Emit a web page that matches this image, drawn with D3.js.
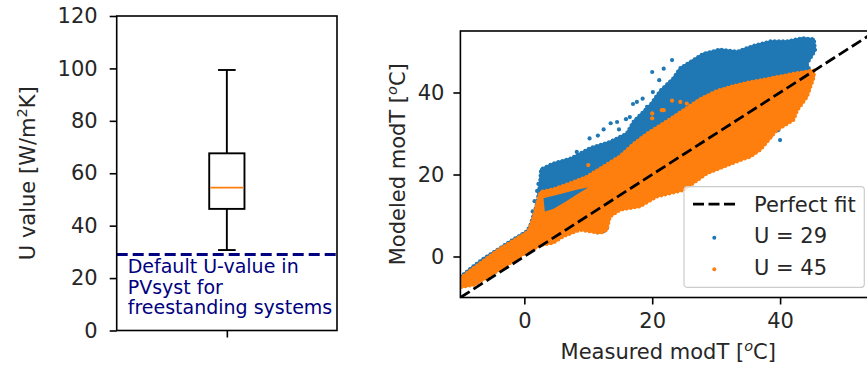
<!DOCTYPE html>
<html>
<head>
<meta charset="utf-8">
<script src="https://cdn.jsdelivr.net/npm/d3@7"></script>
<style>
  body { margin: 0; background: #fff; }
  text { font-family: "DejaVu Sans", sans-serif; fill: #262626; }
</style>
</head>
<body>
<div class="chart"></div>
<script>
// U value boxplot + modelled vs measured module temperature

// left panel: boxplot stats [lower whisker, Q1, median, Q3, upper whisker]
var uValueStats = [30.7, 46.4, 54.5, 67.6, 99.4];
var defaultU = 29;
var noteLines = ["Default U-value in", "PVsyst for", "freestanding systems"];
var leftTicks = [0, 20, 40, 60, 80, 100, 120];

// right panel: tick values and legend
var rightTicks = [0, 20, 40];
var legendLabels = ["Perfect fit", "U = 29", "U = 45"];

// outline of the dense U = 29 cloud [measured, modelled]
var blueCloud = [[-10, -5.0], [-8.5, -3.0], [-6.5, -0.6], [-4.1, 1.8], [-1.5, 4.4], [0.4, 6.2],
    [0.9, 7.5], [2.0, 13], [2.4, 17.5], [2.6, 21.3], [4.5, 22.7], [7.2, 23.9], [10.3, 26.5],
    [13.4, 28], [16, 30], [17.1, 33], [19.7, 37], [21.3, 40.5], [23.3, 43.5], [24.4, 46],
    [26.5, 48], [28, 49.5], [30.6, 50.5], [33.3, 50], [36, 51.5], [38.5, 52.5], [41.1, 52.5],
    [43.5, 53.3], [45.3, 53], [45.5, 50.3], [44.2, 47], [44.8, 45], [40, 40], [30, 32],
    [20, 22], [10, 12], [0, 3], [-10, -6]];

// outline of the dense U = 45 cloud
var orangeCloud = [[-10, -5.3], [-8.3, -3.2], [-6.2, -0.8], [-4.1, 1.6], [-1.5, 4.1], [0.6, 6.1],
    [1.4, 9.5], [1.9, 12.5], [2.3, 14.8], [2.6, 15.8], [4.5, 16.4], [7.2, 17.9], [9.8, 19.5],
    [12.4, 22], [15, 24.5], [17.1, 27.5], [19.2, 30], [22.3, 33], [24.9, 35.7], [27.6, 38.5],
    [30.1, 40.4], [32.7, 41.6], [34.8, 42.4], [36.9, 43], [39.5, 43.8], [42.1, 44.6],
    [45.3, 45.4], [45.3, 43.8], [44.2, 38.9], [42.7, 35.7], [42.1, 33.3], [39.5, 30.8],
    [36.9, 26], [35.3, 24.3], [33.8, 23.5], [31.2, 21.9], [28.6, 20.3], [24.9, 16.2],
    [20.7, 14.6], [18.1, 12.2], [15, 11.4], [13.4, 9.7], [12.9, 6.5], [11.9, 5.7], [10.3, 6.1],
    [8.7, 6.5], [6.1, 4.9], [4.5, 3.3], [2.7, 2.8], [0.1, 0.8], [-2.6, -2], [-5.2, -4.5],
    [-7.8, -6.9], [-10, -7.5]];

// gap inside the orange cloud where blue shows through
var orangeGap = [[3.0, 14.2], [5.5, 15.2], [8.5, 16.4], [10, 16.8], [8.5, 15.4], [6.5, 13.4],
    [4.5, 11.6], [3.2, 11]];

// stray points outside the dense clouds
var blueDots = [[20, 45], [21.1, 43], [20.1, 40.1], [18.5, 38.5], [17.6, 37.7], [17, 37.2],
    [15.9, 33.5], [14.5, 32.8], [13.5, 32.5], [12.4, 31], [10.2, 28.8], [21.8, 45.8], [23.1, 47.9],
    [19.2, 36.5], [16.5, 34], [11.5, 29.5], [14.8, 31], [8.2, 25.5], [2.2, 17.7], [1.3, 11],
    [1.2, 8.5], [1.6, 13.5], [2.0, 16], [39.7, 30.8], [40, 28.4], [38.5, 29.2], [36.9, 26.8],
    [36.4, 26.5], [11, 7.2], [11.8, 6.6], [12.4, 6.2], [12.9, 6.9], [12.6, 7.6], [11.4, 5.9]];
var orangeDots = [[20, 34.9], [21.5, 35.7], [23.1, 38], [24.4, 37.7], [25.4, 37.3], [25.2, 35.5],
    [20, 33.7], [21.8, 35.7], [10, 22.3], [2.5, 13], [2.2, 12.4]];

var svgWidth = 867;
var svgHeight = 369;

var blue = "#1f77b4";
var orange = "#ff7f0e";

var svg = d3.select(".chart")
    .append("svg")
    .attr("width", svgWidth)
    .attr("height", svgHeight);

svg.append("rect")
    .attr("width", svgWidth)
    .attr("height", svgHeight)
    .attr("fill", "#fff");

// ---------- left panel ----------
var left = { x0: 116.7, x1: 337, y0: 16, y1: 330.5 };

var xBox = d3.scaleLinear().domain([0.5, 1.5]).range([left.x0, left.x1]);
var yU = d3.scaleLinear().domain([0, 120]).range([left.y1, left.y0]);

var boxG = svg.append("g");

// default U line and note
boxG.append("line")
    .attr("x1", left.x0)
    .attr("x2", left.x1)
    .attr("y1", yU(defaultU))
    .attr("y2", yU(defaultU))
    .attr("stroke", "#000080")
    .attr("stroke-width", 2.8)
    .attr("stroke-dasharray", "11,5");

boxG.selectAll(".note")
    .data(noteLines)
    .enter()
    .append("text")
    .attr("class", "note")
    .attr("x", xBox(0.55))
    .attr("y", function(d, i) { return yU(defaultU) + 19 + i * 20.5; })
    .attr("font-size", "19px")
    .style("fill", "#000080")
    .text(function(d) { return d; });

// whiskers
var bw = 0.16;
var lw = 1.9;
boxG.append("line")
    .attr("x1", xBox(1)).attr("x2", xBox(1))
    .attr("y1", yU(uValueStats[0])).attr("y2", yU(uValueStats[1]))
    .attr("stroke", "#000").attr("stroke-width", lw);
boxG.append("line")
    .attr("x1", xBox(1)).attr("x2", xBox(1))
    .attr("y1", yU(uValueStats[3])).attr("y2", yU(uValueStats[4]))
    .attr("stroke", "#000").attr("stroke-width", lw);

boxG.selectAll(".cap")
    .data([uValueStats[0], uValueStats[4]])
    .enter()
    .append("line")
    .attr("x1", xBox(1 - bw / 4))
    .attr("x2", xBox(1 + bw / 4))
    .attr("y1", function(d) { return yU(d); })
    .attr("y2", function(d) { return yU(d); })
    .attr("stroke", "#000")
    .attr("stroke-width", lw);

boxG.append("rect")
    .attr("x", xBox(1 - bw / 2))
    .attr("y", yU(uValueStats[3]))
    .attr("width", xBox(1 + bw / 2) - xBox(1 - bw / 2))
    .attr("height", yU(uValueStats[1]) - yU(uValueStats[3]))
    .attr("fill", "none")
    .attr("stroke", "#000")
    .attr("stroke-width", lw);

boxG.append("line")
    .attr("x1", xBox(1 - bw / 2) + 1)
    .attr("x2", xBox(1 + bw / 2) - 1)
    .attr("y1", yU(uValueStats[2]))
    .attr("y2", yU(uValueStats[2]))
    .attr("stroke", orange)
    .attr("stroke-width", lw);

// frame + axes
boxG.append("rect")
    .attr("x", left.x0)
    .attr("y", left.y0)
    .attr("width", left.x1 - left.x0)
    .attr("height", left.y1 - left.y0)
    .attr("fill", "none")
    .attr("stroke", "#000")
    .attr("stroke-width", 1.6);

var leftAxis = d3.axisLeft(yU).tickValues(leftTicks).tickSize(7).tickPadding(12);
var lAx = boxG.append("g")
    .attr("transform", "translate(" + left.x0 + ",0)")
    .call(leftAxis);

var bottomBox = d3.axisBottom(xBox).tickValues([1]).tickSize(7).tickFormat("");
var bAx = boxG.append("g")
    .attr("transform", "translate(0," + left.y1 + ")")
    .call(bottomBox);

var uLabel = boxG.append("text")
    .attr("transform", "translate(35," + ((left.y0 + left.y1) / 2) + ") rotate(-90)")
    .attr("text-anchor", "middle")
    .attr("font-size", "21px");
uLabel.append("tspan").text("U value [W/m");
uLabel.append("tspan").attr("baseline-shift", "super").attr("font-size", "14.5px").text("2");
uLabel.append("tspan").text("K]");

// ---------- right panel ----------
var right = { x0: 460.4, x1: 876, y0: 31, y1: 297.5 };

var xT = d3.scaleLinear().domain([-10, 55]).range([right.x0, right.x1]);
var yT = d3.scaleLinear().domain([-10, 55]).range([right.y1, right.y0]);

svg.append("clipPath")
    .attr("id", "plotClip")
    .append("rect")
    .attr("x", right.x0)
    .attr("y", right.y0)
    .attr("width", right.x1 - right.x0)
    .attr("height", right.y1 - right.y0);

var chart = svg.append("g").attr("clip-path", "url(#plotClip)");

var cloudLine = d3.line()
    .x(function(d) { return xT(d[0]); })
    .y(function(d) { return yT(d[1]); })
    .curve(d3.curveLinearClosed);

// filled cloud with a dotted rim so the edge reads as scattered points
function drawCloud(pts, color) {
    chart.append("path")
        .attr("d", cloudLine(pts))
        .attr("fill", color)
        .attr("stroke", color)
        .attr("stroke-width", 2)
        .attr("stroke-linejoin", "round");
    chart.append("path")
        .attr("d", cloudLine(pts))
        .attr("fill", "none")
        .attr("stroke", color)
        .attr("stroke-width", 3.8)
        .attr("stroke-linecap", "round")
        .attr("stroke-dasharray", "0,4.2");
}

drawCloud(blueCloud, blue);

chart.selectAll(".bdot")
    .data(blueDots)
    .enter()
    .append("circle")
    .attr("class", "bdot")
    .attr("cx", function(d) { return xT(d[0]); })
    .attr("cy", function(d) { return yT(d[1]); })
    .attr("r", 2.1)
    .attr("fill", blue);

drawCloud(orangeCloud, orange);

chart.append("path")
    .attr("d", cloudLine(orangeGap))
    .attr("fill", blue);

chart.selectAll(".odot")
    .data(orangeDots)
    .enter()
    .append("circle")
    .attr("class", "odot")
    .attr("cx", function(d) { return xT(d[0]); })
    .attr("cy", function(d) { return yT(d[1]); })
    .attr("r", 2.1)
    .attr("fill", orange);

// perfect fit line y = x
chart.append("line")
    .attr("x1", xT(-10)).attr("y1", yT(-10))
    .attr("x2", xT(55)).attr("y2", yT(55))
    .attr("stroke", "#000")
    .attr("stroke-width", 2.8)
    .attr("stroke-dasharray", "11,4.5");

svg.append("rect")
    .attr("x", right.x0)
    .attr("y", right.y0)
    .attr("width", right.x1 - right.x0)
    .attr("height", right.y1 - right.y0)
    .attr("fill", "none")
    .attr("stroke", "#000")
    .attr("stroke-width", 1.6);

var xAxisT = d3.axisBottom(xT).tickValues(rightTicks).tickSize(7).tickPadding(9);
var yAxisT = d3.axisLeft(yT).tickValues(rightTicks).tickSize(7).tickPadding(9);

var rxAx = svg.append("g")
    .attr("transform", "translate(0," + right.y1 + ")")
    .call(xAxisT);
var ryAx = svg.append("g")
    .attr("transform", "translate(" + right.x0 + ",0)")
    .call(yAxisT);

[lAx, bAx, rxAx, ryAx].forEach(function(ax) {
    ax.select(".domain").remove();
    ax.selectAll(".tick line").attr("stroke", "#000").attr("stroke-width", 1.6);
    ax.selectAll(".tick text")
        .attr("font-size", "21px")
        .attr("font-family", "DejaVu Sans")
        .style("fill", "#262626");
});

var yLab = svg.append("text")
    .attr("transform", "translate(405," + ((right.y0 + right.y1) / 2) + ") rotate(-90)")
    .attr("text-anchor", "middle")
    .attr("font-size", "21px");
yLab.append("tspan").text("Modeled modT [");
yLab.append("tspan").attr("baseline-shift", "super").attr("font-size", "14.5px").attr("font-style", "italic").text("o");
yLab.append("tspan").text("C]");

var xLab = svg.append("text")
    .attr("x", (right.x0 + right.x1) / 2)
    .attr("y", 359)
    .attr("text-anchor", "middle")
    .attr("font-size", "21px");
xLab.append("tspan").text("Measured modT [");
xLab.append("tspan").attr("baseline-shift", "super").attr("font-size", "14.5px").attr("font-style", "italic").text("o");
xLab.append("tspan").text("C]");

// legend
var legend = svg.append("g").attr("transform", "translate(684,186.7)");

legend.append("rect")
    .attr("width", 180.3)
    .attr("height", 100.6)
    .attr("rx", 3)
    .attr("fill", "#fff")
    .attr("fill-opacity", 0.8)
    .attr("stroke", "#cccccc")
    .attr("stroke-width", 1.2);

legend.append("line")
    .attr("x1", 9).attr("x2", 51)
    .attr("y1", 17.5).attr("y2", 17.5)
    .attr("stroke", "#000")
    .attr("stroke-width", 2.8)
    .attr("stroke-dasharray", "11,4.5");

legend.selectAll(".ldot")
    .data([blue, orange])
    .enter()
    .append("circle")
    .attr("cx", 30.3)
    .attr("cy", function(d, i) { return 51 + i * 31.5; })
    .attr("r", 2)
    .attr("fill", function(d) { return d; });

legend.selectAll(".ltext")
    .data(legendLabels)
    .enter()
    .append("text")
    .attr("x", 70)
    .attr("y", function(d, i) { return 25.5 + i * 31.3; })
    .attr("font-size", "21px")
    .text(function(d) { return d; });
</script>
</body>
</html>
